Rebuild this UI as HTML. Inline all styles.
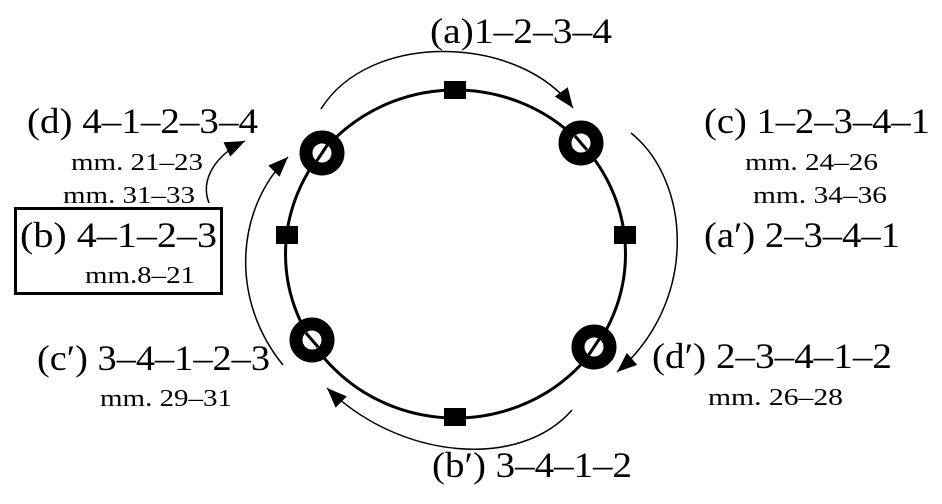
<!DOCTYPE html>
<html><head><meta charset="utf-8"><style>
html,body{margin:0;padding:0;background:#fff;}
svg{display:block;}
text{font-family:"Liberation Serif",serif;fill:#000;}
.b{font-size:36px;}
.s{font-size:24px;}
</style></head><body>
<svg width="942" height="504" viewBox="0 0 942 504" xmlns="http://www.w3.org/2000/svg">
<defs>
<marker id="a" viewBox="0 0 20 16" refX="20" refY="8" markerWidth="20" markerHeight="16" orient="auto" markerUnits="userSpaceOnUse">
<path d="M0,0 L20,8 L0,16 Z" fill="#000"/>
</marker>
</defs>
<ellipse cx="455.5" cy="254" rx="170" ry="164" fill="none" stroke="#000" stroke-width="3"/>
<rect x="444" y="81" width="22" height="18" fill="#000"/>
<rect x="444" y="408" width="22" height="18" fill="#000"/>
<rect x="276" y="226" width="22" height="18" fill="#000"/>
<rect x="614" y="226" width="22" height="18" fill="#000"/>
<g fill="#fff" stroke="#000" stroke-width="13">
<circle cx="322" cy="153" r="16"/>
<circle cx="581" cy="143" r="16"/>
<circle cx="312" cy="340" r="16"/>
<circle cx="594" cy="347" r="16"/>
</g>
<g stroke="#000" stroke-width="3">
<line x1="316" y1="162" x2="328" y2="144"/>
<line x1="575" y1="136" x2="587" y2="150"/>
<line x1="306" y1="333" x2="318" y2="347"/>
<line x1="588" y1="356" x2="600" y2="338"/>
</g>
<g fill="none" stroke="#000" stroke-width="1.5">
<path d="M321,109 C370,30 520,35 573,108" marker-end="url(#a)"/>
<path d="M631,133 C690,180 700,300 617,372" marker-end="url(#a)"/>
<path d="M572,410 C520,470 400,460 327,388" marker-end="url(#a)"/>
<path d="M283,365 C230,300 235,210 288,157" marker-end="url(#a)"/>
<path d="M209,203 C200,180 215,155 245,141" marker-end="url(#a)"/>
</g>
<rect x="15.5" y="208.5" width="206" height="85" fill="none" stroke="#000" stroke-width="3"/>
<text class="b" x="430" y="43" textLength="182" lengthAdjust="spacingAndGlyphs">(a)1–2–3–4</text>
<text class="b" x="27" y="133" textLength="231" lengthAdjust="spacingAndGlyphs">(d) 4–1–2–3–4</text>
<text class="s" x="71" y="170" textLength="132" lengthAdjust="spacingAndGlyphs">mm. 21–23</text>
<text class="s" x="63" y="203" textLength="132" lengthAdjust="spacingAndGlyphs">mm. 31–33</text>
<text class="b" x="20" y="247" textLength="197" lengthAdjust="spacingAndGlyphs">(b) 4–1–2–3</text>
<text class="s" x="85" y="283" textLength="110" lengthAdjust="spacingAndGlyphs">mm.8–21</text>
<text class="b" x="704" y="133" textLength="226" lengthAdjust="spacingAndGlyphs">(c) 1–2–3–4–1</text>
<text class="s" x="745" y="170" textLength="133" lengthAdjust="spacingAndGlyphs">mm. 24–26</text>
<text class="s" x="753" y="203" textLength="134" lengthAdjust="spacingAndGlyphs">mm. 34–36</text>
<text class="b" x="704" y="247" textLength="196" lengthAdjust="spacingAndGlyphs">(a′) 2–3–4–1</text>
<text class="b" x="37" y="370" textLength="233" lengthAdjust="spacingAndGlyphs">(c′) 3–4–1–2–3</text>
<text class="s" x="100" y="406" textLength="132" lengthAdjust="spacingAndGlyphs">mm. 29–31</text>
<text class="b" x="652" y="368" textLength="240" lengthAdjust="spacingAndGlyphs">(d′) 2–3–4–1–2</text>
<text class="s" x="708" y="405" textLength="135" lengthAdjust="spacingAndGlyphs">mm. 26–28</text>
<text class="b" x="432" y="477" textLength="200" lengthAdjust="spacingAndGlyphs">(b′) 3–4–1–2</text>
</svg>
</body></html>
